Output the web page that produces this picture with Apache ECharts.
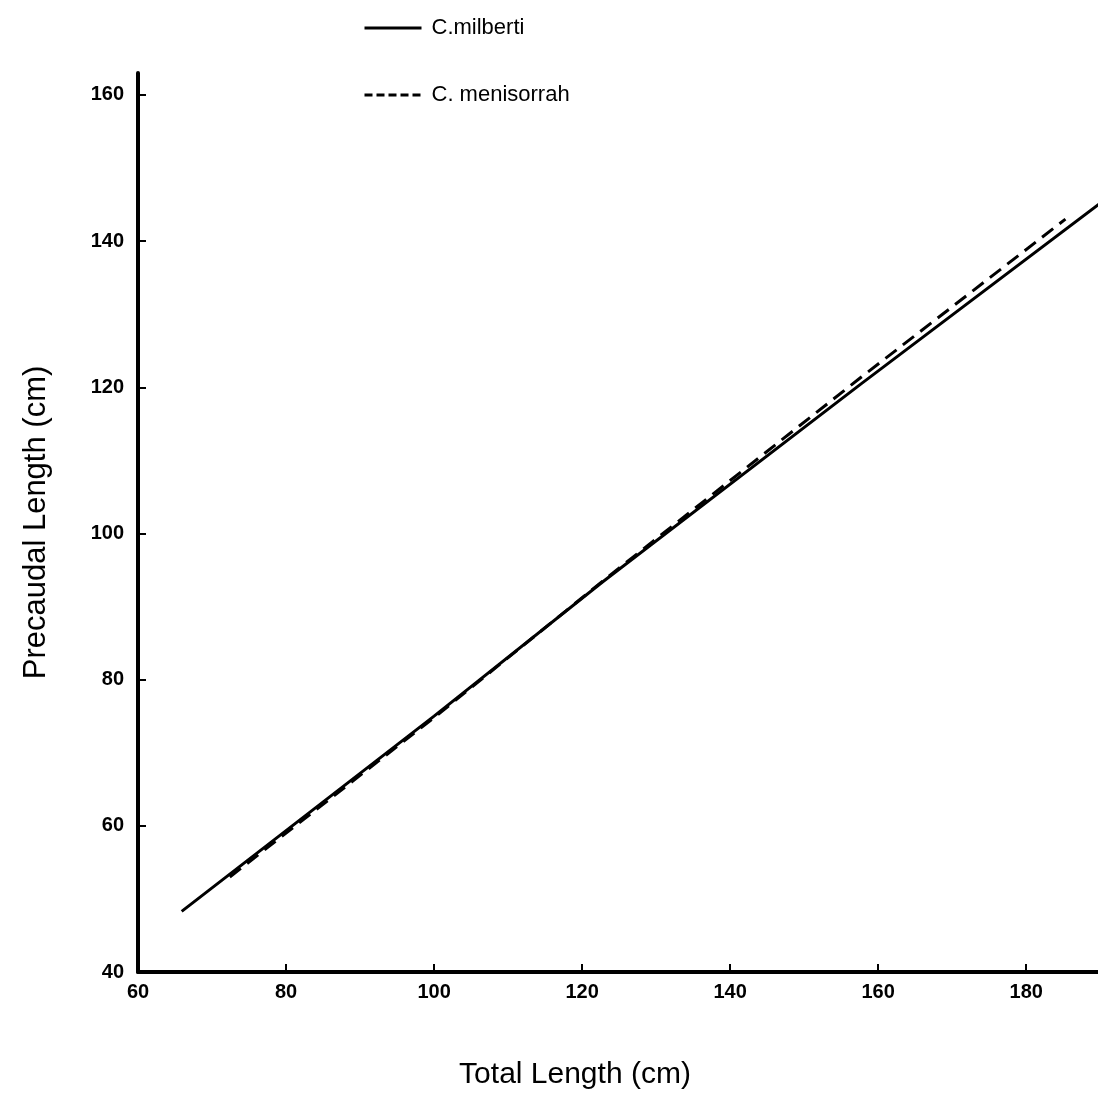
<!DOCTYPE html>
<html>
<head>
<meta charset="utf-8">
<script src="https://cdn.jsdelivr.net/npm/echarts@6/dist/echarts.min.js"></script>
<style>
html,body{margin:0;padding:0;background:#fff;overflow:hidden;}
#chart{width:1098px;height:1095px;}
</style>
</head>
<body>
<div id="chart"></div>
<script>
var seriesNames = ['C.milberti', 'C. menisorrah'];
var milberti = [[65.9, 48.3], [100, 75.0], [122.8, 93.4], [157.6, 120.4], [190, 145.2]];
var menisorrah = [[72.4, 53.0], [100, 74.8], [122.8, 93.5], [157.6, 121.3], [185.3, 143.0]];
var xTicks = [60, 80, 100, 120, 140, 160, 180];
var yTicks = [40, 60, 80, 100, 120, 140, 160];

var chart = echarts.init(document.getElementById('chart'));
var labelFont = {color: '#000', fontFamily: 'Liberation Sans', fontWeight: 'bold', fontSize: 20};
chart.setOption({
  animation: false,
  backgroundColor: '#fff',
  grid: {left: 138, right: 0, top: 73, bottom: 123, containLabel: false, outerBoundsMode: 'none'},
  legend: {
    orient: 'vertical',
    left: 358,
    top: 12,
    padding: 5,
    itemWidth: 57,
    itemHeight: 24,
    itemGap: 45,
    itemStyle: {opacity: 0},
    data: [
      {name: seriesNames[0], lineStyle: {width: 3, type: 'solid', color: '#000'}},
      {name: seriesNames[1], lineStyle: {width: 3, type: [8, 4], color: '#000'}}
    ],
    textStyle: {color: '#000', fontFamily: 'Liberation Sans', fontSize: 22, padding: [3, 0, 0, 5]}
  },
  xAxis: {
    type: 'value', min: 60, max: 189.7, interval: 20,
    name: 'Total Length (cm)', nameLocation: 'middle', nameGap: 88,
    nameTextStyle: {color: '#000', fontFamily: 'Liberation Sans', fontSize: 30, padding: [0, 86, 0, 0]},
    axisLine: {show: true, lineStyle: {color: '#000', width: 4}},
    axisTick: {show: true, inside: true, length: 8, lineStyle: {color: '#000', width: 2}, customValues: xTicks},
    axisLabel: Object.assign({margin: 10, customValues: xTicks}, labelFont),
    splitLine: {show: false}
  },
  yAxis: {
    type: 'value', min: 40, max: 163, interval: 20,
    name: 'Precaudal Length (cm)', nameLocation: 'middle', nameGap: 86,
    nameTextStyle: {color: '#000', fontFamily: 'Liberation Sans', fontSize: 31},
    axisLine: {show: true, lineStyle: {color: '#000', width: 4}},
    axisTick: {show: true, inside: true, length: 8, lineStyle: {color: '#000', width: 2}, customValues: yTicks},
    axisLabel: Object.assign({margin: 14, customValues: yTicks}, labelFont),
    splitLine: {show: false}
  },
  series: [
    {
      name: seriesNames[0], type: 'line', data: milberti, symbol: 'none', smooth: false,
      lineStyle: {color: '#000', width: 3, type: 'solid'},
      itemStyle: {color: '#000'}
    },
    {
      name: seriesNames[1], type: 'line', data: menisorrah, symbol: 'none', smooth: false,
      lineStyle: {color: '#000', width: 3, type: [14, 8]},
      itemStyle: {color: '#000'}
    }
  ]
});
</script>
</body>
</html>
